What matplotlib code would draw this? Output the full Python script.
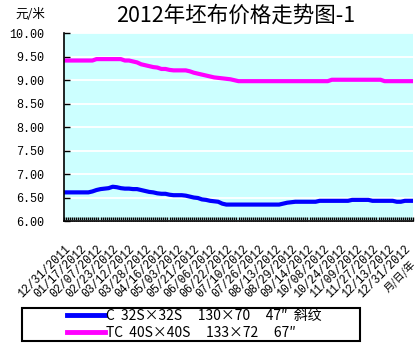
import matplotlib.pyplot as plt
import matplotlib.transforms as mtransforms
from matplotlib.ticker import MultipleLocator
from matplotlib.patches import Rectangle
from matplotlib.lines import Line2D

plt.rcParams['font.family'] = ['Noto Sans CJK SC', 'DejaVu Sans']

# x axis tick labels (one every 4 samples)
date_labels = ["12/31/2011", "01/17/2012", "02/07/2012", "02/23/2012", "03/12/2012",
               "03/28/2012", "04/16/2012", "05/03/2012", "05/21/2012", "06/06/2012",
               "06/22/2012", "07/10/2012", "07/26/2012", "08/13/2012", "08/29/2012",
               "09/14/2012", "10/08/2012", "10/24/2012", "11/09/2012", "11/27/2012",
               "12/13/2012", "12/31/2012"]

# C 32Sx32S price, yuan/m
c_price = [6.61, 6.61, 6.61, 6.61, 6.61, 6.61, 6.61, 6.63, 6.66, 6.68,
           6.69, 6.70, 6.73, 6.72, 6.70, 6.69, 6.69, 6.68, 6.68, 6.66,
           6.64, 6.62, 6.61, 6.59, 6.58, 6.58, 6.56, 6.55, 6.55, 6.55,
           6.54, 6.52, 6.50, 6.49, 6.46, 6.45, 6.43, 6.42, 6.41, 6.37,
           6.35, 6.35, 6.35, 6.35, 6.35, 6.35, 6.35, 6.35, 6.35, 6.35,
           6.35, 6.35, 6.35, 6.35, 6.37, 6.39, 6.40, 6.41, 6.41, 6.41,
           6.41, 6.41, 6.41, 6.43, 6.43, 6.43, 6.43, 6.43, 6.43, 6.43,
           6.43, 6.45, 6.45, 6.45, 6.45, 6.45, 6.43, 6.43, 6.43, 6.43,
           6.43, 6.43, 6.41, 6.41, 6.43, 6.43, 6.43]

# TC 40Sx40S price, yuan/m
tc_price = [9.42, 9.42, 9.42, 9.42, 9.42, 9.42, 9.42, 9.42, 9.45, 9.45,
            9.45, 9.45, 9.45, 9.45, 9.45, 9.42, 9.42, 9.40, 9.38, 9.34,
            9.32, 9.30, 9.28, 9.27, 9.24, 9.24, 9.22, 9.21, 9.21, 9.21,
            9.21, 9.19, 9.16, 9.14, 9.12, 9.10, 9.08, 9.06, 9.05, 9.04,
            9.03, 9.02, 9.00, 8.98, 8.98, 8.98, 8.98, 8.98, 8.98, 8.98,
            8.98, 8.98, 8.98, 8.98, 8.98, 8.98, 8.98, 8.98, 8.98, 8.98,
            8.98, 8.98, 8.98, 8.98, 8.98, 8.98, 9.01, 9.01, 9.01, 9.01,
            9.01, 9.01, 9.01, 9.01, 9.01, 9.01, 9.01, 9.01, 9.01, 8.98,
            8.98, 8.98, 8.98, 8.98, 8.98, 8.98, 8.98]

series_names = ["C  32S×32S     130×70     47″  斜纹",
                "TC  40S×40S     133×72     67″"]
y_ticks = [6.0, 6.5, 7.0, 7.5, 8.0, 8.5, 9.0, 9.5, 10.0]

W, H = 417, 345
fig = plt.figure(figsize=(W / 100, H / 100), dpi=100)
ax = fig.add_axes([64 / W, 1 - 221 / H, 349 / W, (221 - 33.3) / H])
ax.set_facecolor('#CCFFFF')

x = list(range(len(c_price)))
ax.plot(x, c_price, color='#0000FF', lw=3, solid_capstyle='butt')
ax.plot(x, tc_price, color='#FF00FF', lw=3, solid_capstyle='butt')

ax.set_xlim(0, len(x) - 1)
ax.set_ylim(6, 10)
ax.yaxis.grid(True, color='white', lw=1.3)
ax.set_axisbelow(True)

ax.set_yticks(y_ticks)
ax.set_yticklabels(["%.2f" % v for v in y_ticks], family='Liberation Mono', fontsize=8.5)
ax.tick_params(axis='y', direction='in', length=4, width=1, pad=14)

ax.set_xticks(range(0, 4 * len(date_labels), 4))
ax.set_xticklabels(date_labels, rotation=45, ha='right', va='top',
                   rotation_mode='anchor', family='Liberation Mono', fontsize=8.3)
shift = mtransforms.ScaledTranslation(-4 / 100, 0, fig.dpi_scale_trans)
for lbl in ax.get_xticklabels():
    lbl.set_transform(lbl.get_transform() + shift)
ax.xaxis.set_minor_locator(MultipleLocator(0.5))
ax.tick_params(axis='x', which='both', direction='in', length=3, width=1, pad=16)

for s in ['top', 'right']:
    ax.spines[s].set_visible(False)
ax.spines['left'].set_linewidth(1.2)
ax.spines['bottom'].set_linewidth(1.2)

fig.text(236 / W, 1 - 16 / H, "2012年坯布价格走势图-1", ha='center', va='center', fontsize=15.5)
fig.text(30 / W, 1 - 14 / H, "元/米", ha='center', va='center', fontsize=9)
fig.text(400 / W, 1 - 276 / H, "月/日/年", ha='center', va='center', rotation=45, fontsize=7.5)

# legend box
fig.patches.append(Rectangle((22 / W, 1 - 341 / H), 338 / W, 33 / H, transform=fig.transFigure,
                             fill=False, edgecolor='black', lw=1.5))
handles = [Line2D([], [], color='#0000FF', lw=3.5), Line2D([], [], color='#FF00FF', lw=3.5)]
fig.legend(handles, series_names, loc='upper left', bbox_to_anchor=(67 / W, 1 - 309 / H),
           frameon=False, fontsize=10, handlelength=2.7, handletextpad=0.1,
           labelspacing=0.2, borderpad=0.0, borderaxespad=0)

fig.savefig("out.png", dpi=100)
